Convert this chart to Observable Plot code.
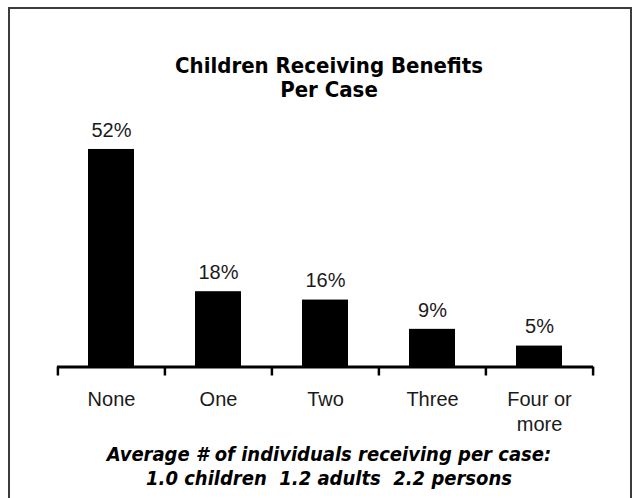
<!DOCTYPE html>
<html>
<head>
<meta charset="utf-8">
<script src="https://cdn.jsdelivr.net/npm/d3@7"></script>
<script src="https://cdn.jsdelivr.net/npm/@observablehq/plot@0.6"></script>
<style>
  html, body { margin: 0; padding: 0; background: #fff; }
  body { position: relative; width: 640px; height: 498px; overflow: hidden; }
  #frame { position: absolute; left: 8px; top: 7px; width: 620px; height: 560px; border: 2px solid #3c3c3c; }
  #title { position: absolute; left: 29px; width: 600px; top: 53.5px; text-align: center;
    font-family: "DejaVu Sans Condensed", "DejaVu Sans", sans-serif; font-weight: bold; font-size: 22px; line-height: 24px; color: #000; }
  #chart { position: absolute; left: 0; top: 110px; }
  #caption { position: absolute; left: 29px; width: 600px; top: 443px; text-align: center;
    font-family: "DejaVu Sans Condensed", "DejaVu Sans", sans-serif; font-weight: bold; font-style: italic; font-size: 20px; line-height: 23.5px; color: #000; }
</style>
</head>
<body>
<div id="frame"></div>
<div id="title">Children Receiving Benefits<br>Per Case</div>
<div id="chart"></div>
<div id="caption">Average # of individuals receiving per case:<br>1.0 children&nbsp; 1.2 adults&nbsp; 2.2 persons</div>
<script>
const categories = ["None", "One", "Two", "Three", "Four or more"];
const tickLabels = ["None", "One", "Two", "Three", "Four or\nmore"];
const values = [52, 18, 16, 9, 5];
const valueLabels = ["52%", "18%", "16%", "9%", "5%"];

const data = categories.map((c, i) => ({cat: c, value: values[i], label: valueLabels[i], tick: tickLabels[i]}));
const last = [data[data.length - 1]];

const labelFont = "Liberation Sans, Arial, sans-serif";

const chart = Plot.plot({
  width: 640,
  height: 330,
  marginLeft: 57,
  marginRight: 47,
  marginTop: 5.5,
  marginBottom: 73.5,
  x: {type: "band", domain: categories, paddingInner: 0.571, paddingOuter: 0.2855, axis: null},
  y: {domain: [0, 60], axis: null},
  marks: [
    Plot.barY(data, {x: "cat", y: "value", fill: "#000"}),
    Plot.ruleY([0], {stroke: "#000", strokeWidth: 3}),
    Plot.ruleX(data, {x: "cat", y1: 0, y2: 0, insetBottom: -9, dx: -53.6, stroke: "#000", strokeWidth: 2.5}),
    Plot.ruleX(last, {x: "cat", y1: 0, y2: 0, insetBottom: -9, dx: 53.6, stroke: "#000", strokeWidth: 2.5}),
    Plot.text(data, {x: "cat", y: "value", text: "label", dy: -19, lineAnchor: "middle",
      fontSize: 20, fontFamily: labelFont, fill: "#1a1a1a"}),
    Plot.text(data, {x: "cat", y: 0, text: "tick", lineAnchor: "top", dy: 21.3, lineHeight: 1.25,
      fontSize: 20, fontFamily: labelFont, fill: "#1a1a1a"})
  ]
});
document.getElementById("chart").appendChild(chart);
</script>
</body>
</html>
